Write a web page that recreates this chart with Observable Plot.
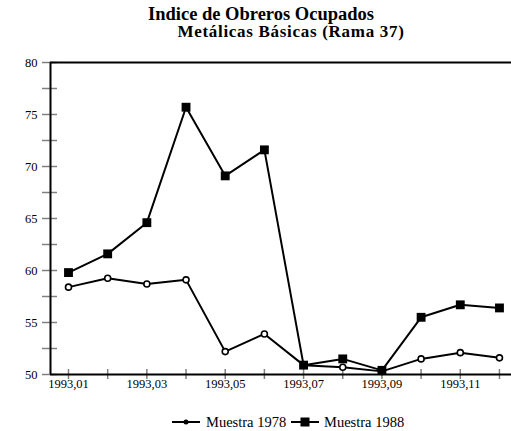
<!DOCTYPE html>
<html>
<head>
<meta charset="utf-8">
<script src="https://cdn.jsdelivr.net/npm/d3@7"></script>
<script src="https://cdn.jsdelivr.net/npm/@observablehq/plot@0.6"></script>
<style>
  html, body { margin: 0; padding: 0; background: white; }
  #wrap { position: relative; width: 511px; height: 431px; font-family: "Liberation Serif", "Times New Roman", serif; color: black; overflow: hidden; }
  .t { position: absolute; white-space: nowrap; font-weight: bold; transform: translateX(-50%); }
  #title { left: 261px; top: 5px; font-size: 18.5px; line-height: 18px; letter-spacing: 0px; }
  #subtitle { left: 291px; top: 23px; font-size: 17px; line-height: 17px; letter-spacing: 0.7px; }
  #chart { position: absolute; left: 0; top: 44px; }
  #legend { position: absolute; left: 0; top: 400px; }
</style>
</head>
<body>
<div id="wrap">
  <div id="title" class="t">Indice de Obreros Ocupados</div>
  <div id="subtitle" class="t">Metálicas Básicas (Rama 37)</div>
  <div id="chart"></div>
  <div id="legend"></div>
</div>
<script>
const months = [1, 2, 3, 4, 5, 6, 7, 8, 9, 10, 11, 12];
const muestra1978 = [58.4, 59.25, 58.7, 59.1, 52.2, 53.9, 50.9, 50.7, 50.3, 51.5, 52.1, 51.6];
const muestra1988 = [59.8, 61.6, 64.6, 75.7, 69.1, 71.6, 50.9, 51.5, 50.4, 55.5, 56.7, 56.4];
const xTickMonths = [1, 3, 5, 7, 9, 11];
const xTickLabels = ["1993,01", "1993,03", "1993,05", "1993,07", "1993,09", "1993,11"];
const yMajorTicks = [50, 55, 60, 65, 70, 75, 80];
const yAllTicks = [50, 52.5, 55, 57.5, 60, 62.5, 65, 67.5, 70, 72.5, 75, 77.5, 80];
const seriesNames = ["Muestra 1978", "Muestra 1988"];

const xDomain = [0.5406, 12.307];
const yDomain = [50, 80];

const rows1978 = months.map((m, i) => ({m, v: muestra1978[i]}));
const rows1988 = months.map((m, i) => ({m, v: muestra1988[i]}));

const chart = Plot.plot({
  width: 511,
  height: 356,
  marginLeft: 50,
  marginRight: 0,
  marginTop: 18,
  marginBottom: 26,
  x: {domain: xDomain, label: null},
  y: {domain: yDomain, label: null},
  style: {fontFamily: "'Liberation Serif', serif", fontSize: "12px", background: "white", color: "black"},
  marks: [
    Plot.axisY(yAllTicks, {tickSize: 15, dx: 7, tickFormat: () => "", stroke: "#808080", strokeWidth: 1.5, label: null}),
    Plot.axisY(yMajorTicks, {tickSize: 0, tickPadding: 13, label: null}),
    Plot.axisX(months, {tickSize: 10, dy: -5, tickFormat: () => "", stroke: "#808080", strokeWidth: 1.5, label: null}),
    Plot.axisX(xTickMonths, {tickSize: 0, tickPadding: 5, label: null, tickFormat: (d) => xTickLabels[xTickMonths.indexOf(d)]}),
    Plot.ruleX([xDomain[0]], {stroke: "black", strokeWidth: 2}),
    Plot.ruleY([yDomain[1]], {stroke: "black", strokeWidth: 2}),
    Plot.ruleY([yDomain[0]], {stroke: "black", strokeWidth: 2}),
    Plot.line(rows1978, {x: "m", y: "v", stroke: "black", strokeWidth: 2}),
    Plot.dot(rows1978, {x: "m", y: "v", r: 3, fill: "white", stroke: "black", strokeWidth: 1.6}),
    Plot.line(rows1988, {x: "m", y: "v", stroke: "black", strokeWidth: 2}),
    Plot.dot(rows1988, {x: "m", y: "v", r: 5, symbol: "square", fill: "black", stroke: "none"})
  ]
});
d3.select(chart).selectAll("text")
  .style("font-family", "'Liberation Serif', 'Times New Roman', serif")
  .style("font-size", "12.5px");
document.getElementById("chart").appendChild(chart);

// Legend
const lg = d3.select("#legend").append("svg").attr("width", 511).attr("height", 31);
const items = [
  {name: seriesNames[0], x0: 172, sym: "circle", tx: 206},
  {name: seriesNames[1], x0: 291, sym: "square", tx: 324}
];
items.forEach(it => {
  lg.append("line").attr("x1", it.x0).attr("x2", it.x0 + 28).attr("y1", 22).attr("y2", 22)
    .attr("stroke", "black").attr("stroke-width", 2);
  if (it.sym === "circle") {
    lg.append("circle").attr("cx", it.x0 + 14).attr("cy", 22).attr("r", 2.5).attr("fill", "black");
  } else {
    lg.append("rect").attr("x", it.x0 + 9.5).attr("y", 17.5).attr("width", 9).attr("height", 9).attr("fill", "black");
  }
  lg.append("text").attr("x", it.tx).attr("y", 27)
    .style("font-family", "'Liberation Serif', 'Times New Roman', serif")
    .style("font-size", "14.5px").text(it.name);
});
</script>
</body>
</html>
